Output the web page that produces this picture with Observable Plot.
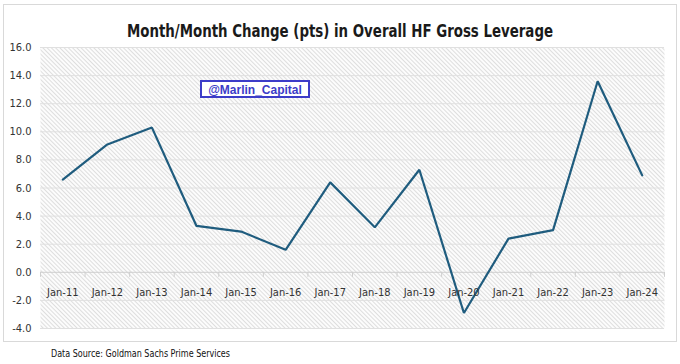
<!DOCTYPE html>
<html><head><meta charset="utf-8">
<script src="https://cdn.jsdelivr.net/npm/d3@7"></script>
<script src="https://cdn.jsdelivr.net/npm/@observablehq/plot@0.6"></script>
<style>
body{margin:0;background:#fff}
#chart{width:680px;height:364px}
</style>
</head><body><div id="chart"></div>
<script>
const categories = ["Jan-11","Jan-12","Jan-13","Jan-14","Jan-15","Jan-16","Jan-17","Jan-18","Jan-19","Jan-20","Jan-21","Jan-22","Jan-23","Jan-24"];
const values = [6.6, 9.1, 10.3, 3.3, 2.9, 1.6, 6.4, 3.2, 7.3, -2.9, 2.4, 3.0, 13.6, 6.9];
const yTicks = [-4, -2, 0, 2, 4, 6, 8, 10, 12, 14, 16];
const title = "Month/Month Change (pts) in Overall HF Gross Leverage";
const watermark = "@Marlin_Capital";
const source = "Data Source: Goldman Sachs Prime Services";

const narrow = '"Liberation Sans Narrow", "DejaVu Sans Condensed", "Roboto", sans-serif';
const rows = categories.map((c, i) => ({cat: c, i, v: values[i]}));
const bounds = d3.range(categories.length + 1).map(i => i - 0.5);

const chart = Plot.plot({
  width: 680, height: 364,
  marginLeft: 40, marginRight: 16, marginTop: 47, marginBottom: 36,
  style: {fontFamily: narrow, fontSize: "11px", color: "#333", background: "transparent"},
  x: {domain: [-0.5, categories.length - 0.5], axis: null},
  y: {domain: [-4, 16], ticks: yTicks, tickSize: 0, tickPadding: 9, label: null,
      tickFormat: d => d.toFixed(1)},
  marks: [
    Plot.frame({fill: "url(#hatch)", stroke: "none"}),
    Plot.ruleY(yTicks.filter(t => t !== 0), {stroke: "#e0e0e0", strokeWidth: 1}),
    Plot.ruleY([0], {stroke: "#cfcfcf", strokeWidth: 1}),
    Plot.ruleX(bounds, {x: d => d, y1: 0, y2: -0.36, stroke: "#cfcfcf"}),
    Plot.line(rows, {x: "i", y: "v", stroke: "#1f5c7e", strokeWidth: 2.2, strokeLinejoin: "miter"}),
    Plot.text(rows, {x: "i", y: () => 0, text: "cat", dy: 20, fontSize: 11, fill: "#333"})
  ]
});

const svg = d3.select(chart);
const defs = svg.insert("defs", ":first-child");
const pat = defs.append("pattern").attr("id", "hatch").attr("patternUnits", "userSpaceOnUse")
  .attr("width", 3).attr("height", 3).attr("patternTransform", "rotate(45)");
pat.append("rect").attr("width", 3).attr("height", 3).attr("fill", "#fcfcfc");
pat.append("rect").attr("width", 3).attr("height", 1).attr("fill", "#dedede");

svg.insert("rect", "defs + *").attr("x", 3.5).attr("y", 4.5).attr("width", 673).attr("height", 337)
  .attr("fill", "#fff").attr("stroke", "#d9d9d9");

svg.append("text").attr("x", 340).attr("y", 37).attr("text-anchor", "middle")
  .attr("font-family", narrow).attr("font-weight", "bold").attr("font-size", 17)
  .attr("textLength", 426).attr("lengthAdjust", "spacingAndGlyphs")
  .attr("fill", "#1a1a1a").text(title);

svg.append("rect").attr("x", 201).attr("y", 81).attr("width", 108).attr("height", 16)
  .attr("fill", "#fff").attr("stroke", "#3c3cc8").attr("stroke-width", 2);
svg.append("text").attr("x", 255).attr("y", 93.5).attr("text-anchor", "middle")
  .attr("font-family", '"Liberation Sans", Arial, sans-serif').attr("font-weight", "bold")
  .attr("font-size", 12).attr("fill", "#3c3cc8").text(watermark);

svg.append("text").attr("x", 51).attr("y", 357).attr("text-anchor", "start")
  .attr("font-family", narrow).attr("font-size", 10)
  .attr("textLength", 179).attr("lengthAdjust", "spacingAndGlyphs")
  .attr("fill", "#111").text(source);

document.getElementById("chart").appendChild(chart);
</script>
</body></html>
